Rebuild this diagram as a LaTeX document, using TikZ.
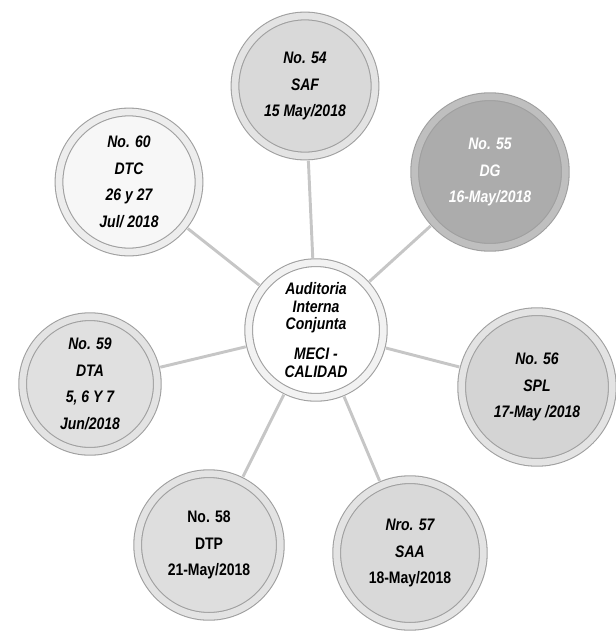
\documentclass[tikz,border=0pt]{standalone}
\usepackage{fontspec}
\usepackage{xcolor}
\newfontfamily\bubfont[FakeStretch=0.84]{Liberation Sans}
\usetikzlibrary{positioning}

\begin{document}
\begin{tikzpicture}[
    x=0.75pt, y=-0.75pt,
    bubble/.style={circle, draw=gray!75, line width=0.8pt, double=gray!22, double distance=5pt,
        fill=#1, align=center, inner sep=0pt,
        font=\bubfont\bfseries\itshape\fontsize{12.5}{20}\selectfont},
    bubble/.default=gray!25,
    link/.style={draw=gray!45, line width=2.2pt, shorten <=3.3pt, shorten >=3.3pt}
]
\useasboundingbox (0,0) rectangle (615,632);
\node[bubble=white, double=gray!10, minimum size=101pt, font=\bubfont\bfseries\itshape\fontsize{12.5}{13.2}\selectfont] (ctr) at (316,330)
    {Auditoria\\Interna\\Conjunta\\[9pt]MECI -\\CALIDAD};
\node[bubble=gray!30, minimum size=105pt] (saf) at (305,86) {No. 54\\SAF\\15 May/2018};
\node[bubble=gray!65, double=gray!50, minimum size=113pt, text=white] (dg) at (490,172) {No. 55\\DG\\16-May/2018};
\node[bubble=gray!34, minimum size=113pt] (spl) at (537,387) {No. 56\\SPL\\17-May /2018};
\node[bubble=gray!30, minimum size=110pt] (saa) at (410,553) {Nro. 57\\SAA\\\upshape 18-May/2018};
\node[bubble=gray!26, minimum size=107pt, font=\bubfont\bfseries\fontsize{12.5}{20}\selectfont] (dtp) at (209,545) {No. 58\\DTP\\21-May/2018};
\node[bubble=gray!24, minimum size=101pt] (dta) at (90,384) {No. 59\\DTA\\5, 6 Y 7\\Jun/2018};
\node[bubble=gray!6, double=gray!14, minimum size=105pt] (dtc) at (129,182) {No. 60\\DTC\\26 y 27\\Jul/ 2018};
\draw[link] (ctr) -- (saf);
\draw[link] (ctr) -- (dg);
\draw[link] (ctr) -- (spl);
\draw[link] (ctr) -- (saa);
\draw[link] (ctr) -- (dtp);
\draw[link] (ctr) -- (dta);
\draw[link] (ctr) -- (dtc);
\end{tikzpicture}
\end{document}
